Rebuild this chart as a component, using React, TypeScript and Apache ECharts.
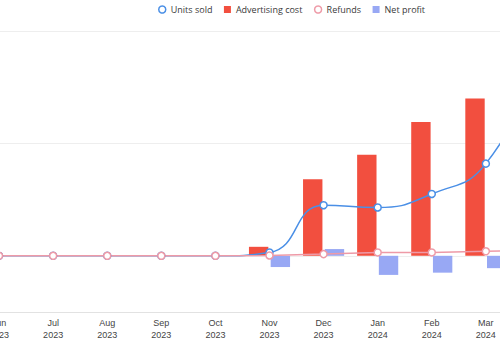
import React, { useEffect, useRef } from "react";
import * as echarts from "echarts";

const categories = [
  "Jun 2023", "Jul 2023", "Aug 2023", "Sep 2023", "Oct 2023", "Nov 2023",
  "Dec 2023", "Jan 2024", "Feb 2024", "Mar 2024", "Apr 2024",
];
const unitsSold = [0, 0, 0, 0, 0, 3, 45, 43, 55, 82, 175];
const advertisingCost = [0, 0, 0, 0, 0, 8, 68, 90, 119, 140, 165];
const refunds = [0, 0, 0, 0, 0, 0.3, 1.5, 3, 3, 4, 5];
const netProfit = [0, 0, 0, 0, 0, -10, 6, -17, -15, -11, -12];

const seriesNames = ["Units sold", "Advertising cost", "Refunds", "Net profit"];

const BLUE = "#4a8fe6";
const RED = "#f24f3f";
const PINK = "#ee9aa7";
const PERI = "#98a8f4";

export default function App() {
  const ref = useRef<HTMLDivElement>(null);
  useEffect(() => {
    if (!ref.current) return;
    const chart = echarts.init(ref.current, undefined, { renderer: "svg" });
    chart.setOption({
      animation: false,
      backgroundColor: "#ffffff",
      legend: {
        left: 253,
        top: 0,
        itemWidth: 7,
        itemHeight: 7,
        itemGap: 11.5,
        textStyle: { fontFamily: "Open Sans", fontSize: 9, color: "#3a3a3a" },
        data: [
          {
            name: seriesNames[0],
            icon: "circle",
            itemStyle: { color: "#fff", borderColor: BLUE, borderWidth: 1.5 },
          },
          { name: seriesNames[1], icon: "rect", itemStyle: { color: RED, borderWidth: 0 } },
          {
            name: seriesNames[2],
            icon: "circle",
            itemStyle: { color: "#fff", borderColor: PINK, borderWidth: 1.5 },
          },
          { name: seriesNames[3], icon: "rect", itemStyle: { color: PERI, borderWidth: 0 } },
        ],
      },
      grid: { left: 72, right: 33, top: 31, bottom: 38, containLabel: false },
      xAxis: {
        type: "category",
        data: categories,
        axisLine: { onZero: false, lineStyle: { color: "#e2e2e2" } },
        axisTick: { show: false },
        axisLabel: {
          margin: 5,
          fontSize: 9,
          lineHeight: 12,
          color: "#444",
          fontFamily: "Liberation Sans, Arial, sans-serif",
          formatter: (v: string) => v.replace(" ", "\n"),
        },
      },
      yAxis: {
        type: "value",
        min: -50,
        max: 200,
        splitNumber: 2,
        axisLabel: { show: false },
        axisLine: { show: false },
        axisTick: { show: false },
        splitLine: { lineStyle: { color: "#eeeeee" } },
      },
      series: [
        {
          name: seriesNames[0],
          type: "line",
          data: unitsSold,
          smooth: true,
          symbol: "circle",
          symbolSize: 7,
          lineStyle: { color: BLUE, width: 1.5 },
          itemStyle: { color: "#fff", borderColor: BLUE, borderWidth: 1.5 },
        },
        {
          name: seriesNames[1],
          type: "bar",
          data: advertisingCost,
          barGap: "12%",
          barCategoryGap: "24%",
          itemStyle: { color: RED },
        },
        {
          name: seriesNames[2],
          type: "line",
          data: refunds,
          symbol: "circle",
          symbolSize: 7,
          lineStyle: { color: PINK, width: 1.5 },
          itemStyle: { color: "#fff", borderColor: PINK, borderWidth: 1.5 },
        },
        {
          name: seriesNames[3],
          type: "bar",
          data: netProfit,
          barGap: "12%",
          barCategoryGap: "24%",
          itemStyle: { color: PERI },
        },
      ],
    });
    return () => chart.dispose();
  }, []);
  return (
    <div
      style={{
        position: "fixed",
        left: 0,
        top: 0,
        width: 500,
        height: 350,
        overflow: "hidden",
        background: "#fff",
      }}
    >
      <div
        ref={ref}
        style={{ position: "absolute", left: -100, top: 0, width: 700, height: 350 }}
      />
    </div>
  );
}
